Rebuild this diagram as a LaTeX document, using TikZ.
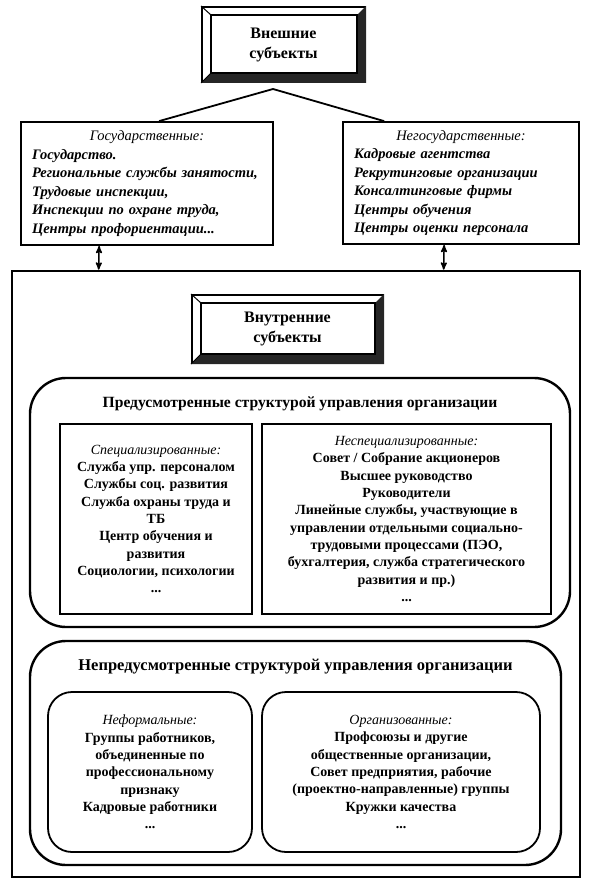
\documentclass[tikz,border=0pt]{standalone}
\usepackage{fontspec}
\setmainfont{Liberation Serif}
\usetikzlibrary{arrows,positioning,calc}
\tikzset{
    bevelbox/.style = {rectangle,
                    draw=black,
                    line width=2pt,
                    inner sep=0pt,
                    align=center,
                    font=\fontsize{16}{20}\selectfont\bfseries},
    listbox/.style = {rectangle,
                    draw=black,
                    line width=1.8pt,
                    inner sep=0pt,
                    align=left,
                    font=\fontsize{14.5}{18.5}\selectfont\bfseries\itshape},
    outerbox/.style = {rectangle,
                    draw=black,
                    line width=2.6pt,
                    inner sep=0pt},
    groupbox/.style = {rectangle,
                    rounded corners=36pt,
                    draw=black,
                    line width=2.4pt,
                    inner sep=0pt},
    subbox/.style = {rectangle,
                    draw=black,
                    line width=1.8pt,
                    inner sep=0pt,
                    align=center,
                    font=\fontsize{14}{17.3}\selectfont\bfseries},
    roundbox/.style = {subbox,
                    rounded corners=24pt},
    heading/.style = {inner sep=0pt,
                    font=\fontsize{16.5}{18}\selectfont\bfseries},
    -,
    link/.style = {line width=1.8pt},
    dual/.style = {line width=1.5pt, <->},
    >=stealth'}
\begin{document}
\begin{tikzpicture}[x=1pt,y=-1pt]
    \useasboundingbox (0,0) rectangle (593,888);
    % external subjects
    \node[bevelbox, minimum width=163pt, minimum height=75pt] (ext) at (283.5,44.5) {Внешние\\субъекты};
    \node[listbox, minimum width=252pt, minimum height=123pt, text width=230pt] (gov) at (147,183.5)
        {\makebox[\linewidth]{\mdseries Государственные:}\\
         Государство.\\
         Региональные службы занятости,\\
         Трудовые инспекции,\\
         Инспекции по охране труда,\\
         Центры профориентации...};
    \node[listbox, minimum width=236pt, minimum height=122pt, text width=214pt] (nongov) at (461,183)
        {\makebox[\linewidth]{\mdseries Негосударственные:}\\
         Кадровые агентства\\
         Рекрутинговые организации\\
         Консалтинговые фирмы\\
         Центры обучения\\
         Центры оценки персонала};
    % internal subjects
    \node[outerbox, minimum width=568pt, minimum height=606pt] (frame) at (296,574) {};
    \node[bevelbox, minimum width=191pt, minimum height=68pt] (intern) at (287.5,329) {Внутренние\\субъекты};
    \node[groupbox, minimum width=540pt, minimum height=249pt] (planned) at (300,502.5) {};
    \node[heading, font=\fontsize{15.6}{18}\selectfont\bfseries, below=20pt of planned.north] (plannedhead)
        {Предусмотренные структурой управления организации};
    \node[subbox, minimum width=192pt, minimum height=190pt] (spec) at (156,519)
        {{\mdseries\itshape Специализированные:}\\
         Служба упр. персоналом\\
         Службы соц. развития\\
         Служба охраны труда и\\
         ТБ\\
         Центр обучения и\\
         развития\\
         Социологии, психологии\\
         ...};
    \node[subbox, minimum width=289pt, minimum height=190pt] (nonspec) at (406.5,519)
        {{\mdseries\itshape Неспециализированные:}\\
         Совет / Собрание акционеров\\
         Высшее руководство\\
         Руководители\\
         Линейные службы, участвующие в\\
         управлении отдельными социально-\\
         трудовыми процессами (ПЭО,\\
         бухгалтерия, служба стратегического\\
         развития и пр.)\\
         ...};
    \node[groupbox, minimum width=531pt, minimum height=224pt] (unplanned) at (295.5,753) {};
    \node[heading, below=19pt of unplanned.north] (unplannedhead) {Непредусмотренные структурой управления организации};
    \node[roundbox, minimum width=204pt, minimum height=160pt] (informal) at (150,772)
        {{\mdseries\itshape Неформальные:}\\
         Группы работников,\\
         объединенные по\\
         профессиональному\\
         признаку\\
         Кадровые работники\\
         ...};
    \node[roundbox, minimum width=278pt, minimum height=160pt] (organized) at (401,772)
        {{\mdseries\itshape Организованные:}\\
         Профсоюзы и другие\\
         общественные организации,\\
         Совет предприятия, рабочие\\
         (проектно-направленные) группы\\
         Кружки качества\\
         ...};
    % bevels
    \foreach \bx in {ext,intern}{
        \fill[black!85] (\bx.north east) -- ($(\bx.north east)+(-9,9)$) -- ($(\bx.south east)+(-9,-10)$)
            -- ($(\bx.south west)+(10,-10)$) -- (\bx.south west) -- (\bx.south east) -- cycle;
        \draw[line width=1.2pt] ($(\bx.north west)+(10,9)$) rectangle ($(\bx.south east)+(-9,-10)$);
        \draw[line width=1pt] (\bx.north west) -- ++(10,9) (\bx.south west) -- ++(10,-10);
    }
    % connectors
    \coordinate (apex) at ($(ext.south)+(-10.5,6)$);
    \draw[link] ($(gov.north west)+(139,0)$) -- (apex) -- ($(nongov.north west)+(42,0)$);
    \draw[dual] ($(gov.south west)+(79,0)$) -- ($(frame.north west)+(88,0)$);
    \draw[dual] ($(nongov.south west)+(102,0)$) -- ($(frame.north west)+(433,0)$);
\end{tikzpicture}
\end{document}
